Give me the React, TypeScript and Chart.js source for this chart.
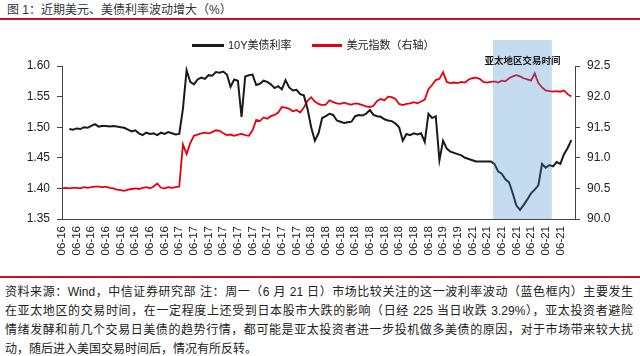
import React, { useEffect, useRef } from "react";
import { Chart, registerables } from "chart.js";

Chart.register(...registerables);

// ---- data ----
const dateLabels = [
  "06-16", "06-16", "06-16", "06-16", "06-16", "06-16", "06-16", "06-16",
  "06-17", "06-17", "06-17", "06-17", "06-17", "06-17", "06-17", "06-17", "06-17",
  "06-18", "06-18", "06-18", "06-18", "06-18", "06-18", "06-18", "06-18", "06-18",
  "06-19", "06-19",
  "06-21", "06-21", "06-21", "06-21", "06-21", "06-21", "06-21",
];

// samples per date label: 4 (one every 0.25 label step)
const SAMPLE_STEP = 0.25;

const yield10Y: (number | null)[] = [
  null, null, 1.497, 1.496, 1.498, 1.497, 1.500, 1.499, 1.502, 1.505,
  1.501, 1.502, 1.502, 1.501, 1.502, 1.501, 1.500, 1.499, 1.496, 1.493,
  1.495, 1.490, 1.487, 1.491, 1.489, 1.490, 1.487, 1.491, 1.489, 1.492,
  1.490, 1.488, 1.489, 1.530, 1.593, 1.574, 1.570, 1.578, 1.581, 1.579,
  1.585, 1.584, 1.590, 1.589, 1.591, 1.586, 1.566, 1.578, 1.576, 1.517,
  1.583, 1.585, 1.586, 1.569, 1.571, 1.576, 1.574, 1.570, 1.564, 1.567,
  1.562, 1.577, 1.565, 1.560, 1.561, 1.554, 1.552, 1.530, 1.500, 1.478,
  1.490, 1.515, 1.518, 1.522, 1.520, 1.511, 1.509, 1.507, 1.508, 1.509,
  1.518, 1.520, 1.519, 1.522, 1.528, 1.520, 1.518, 1.517, 1.513, 1.511,
  1.510, 1.506, 1.500, 1.478, 1.489, 1.487, 1.490, 1.488, 1.490, 1.476,
  1.522, 1.515, 1.518, 1.446, 1.478, 1.465, 1.460, 1.458, 1.456, 1.454,
  1.450, 1.448, 1.446, 1.444, 1.444, 1.444, 1.444, 1.444, 1.440, 1.428,
  1.424, 1.415, 1.410, 1.392, 1.372, 1.365, 1.373, 1.382, 1.392, 1.398,
  1.405, 1.440, 1.434, 1.438, 1.436, 1.443, 1.440, 1.456, 1.466, 1.479,
];

const dollarIndex: (number | null)[] = [
  90.50, 90.51, 90.50, 90.51, 90.51, 90.50, 90.52, 90.51, 90.52, 90.53,
  90.53, 90.52, 90.53, 90.51, 90.50, 90.48, 90.47, 90.46, 90.48, 90.49,
  90.50, 90.49, 90.51, 90.52, 90.50, 90.53, 90.58, 90.51, 90.50, 90.52,
  90.51, 90.52, 90.53, 91.22, 91.06, 91.24, 91.36, 91.38, 91.40, 91.41,
  91.40, 91.42, 91.45, 91.44, 91.40, 91.37, 91.38, 91.36, 91.38, 91.39,
  91.37, 91.36, 91.45, 91.62, 91.60, 91.66, 91.64, 91.68, 91.70, 91.74,
  91.83, 91.82, 91.80, 91.76, 91.78, 91.74, 91.82, 91.93, 91.99, 91.92,
  91.88, 91.86, 91.87, 91.94, 91.91, 91.89, 91.88, 91.90, 91.88, 91.87,
  91.89, 91.88, 91.86, 91.84, 91.83, 91.85, 91.93, 91.96, 91.94, 92.00,
  91.99, 91.96, 91.88, 91.86, 91.88, 91.89, 91.91, 91.89, 91.92, 91.95,
  92.12, 92.19, 92.27, 92.29, 92.40, 92.24, 92.22, 92.23, 92.22, 92.24,
  92.23, 92.28, 92.30, 92.31, 92.29, 92.24, 92.23, 92.24, 92.25, 92.23,
  92.26, 92.25, 92.30, 92.33, 92.35, 92.33, 92.30, 92.28, 92.26, 92.38,
  92.22, 92.15, 92.10, 92.09, 92.08, 92.09, 92.08, 92.10, 92.04, 92.00,
];

// highlighted Asia-Pacific session (in date-label units)
const highlightRange = [29.4, 33.42];
const highlightText = "亚太地区交易时间";

const seriesNames = ["10Y美债利率", "美元指数（右轴）"];
const leftTicks = [1.35, 1.6, 0.05];
const rightTicks = [90, 92.5, 0.5];

const FONT = "'Liberation Sans', 'Noto Sans CJK SC', Arial, sans-serif";
const CJK_FONT = "'Liberation Sans', 'Noto Sans CJK SC', sans-serif";

const highlightPlugin = {
  id: "highlightBox",
  afterDatasetsDraw(chart: any) {
    const { ctx, chartArea, scales } = chart;
    const x0 = scales.x.getPixelForValue(highlightRange[0]);
    const x1 = scales.x.getPixelForValue(highlightRange[1]);
    const top = chartArea.top - 26;
    ctx.save();
    ctx.fillStyle = "rgba(62,138,205,0.3)";
    ctx.fillRect(x0, top, x1 - x0, chartArea.bottom - top);
    ctx.fillStyle = "#1a1a1a";
    ctx.font = `bold 9.5px ${CJK_FONT}`;
    ctx.textAlign = "center";
    ctx.textBaseline = "middle";
    ctx.fillText(highlightText, (x0 + x1) / 2, chartArea.top - 5);
    ctx.restore();
  },
};

export default function App() {
  const canvasRef = useRef<HTMLCanvasElement | null>(null);

  useEffect(() => {
    if (!canvasRef.current) return;
    const chart = new Chart(canvasRef.current, {
      type: "line",
      data: {
        datasets: [
          {
            label: seriesNames[0],
            data: yield10Y.map((v, i) => ({ x: i * SAMPLE_STEP, y: v })) as any,
            borderColor: "#1a1a1a",
            borderWidth: 2,
            pointRadius: 0,
            yAxisID: "y",
            spanGaps: false,
          },
          {
            label: seriesNames[1],
            data: dollarIndex.map((v, i) => ({ x: i * SAMPLE_STEP, y: v })) as any,
            borderColor: "#e8000e",
            borderWidth: 1.8,
            pointRadius: 0,
            yAxisID: "y1",
          },
        ],
      },
      options: {
        responsive: false,
        animation: false,
        events: [],
        layout: { padding: { top: 36, bottom: 17, left: 0, right: 0 } },
        plugins: { legend: { display: false }, tooltip: { enabled: false } },
        scales: {
          x: {
            type: "linear",
            min: 0,
            max: 35,
            afterBuildTicks: (axis: any) => {
              axis.ticks = dateLabels.map((_, i) => ({ value: i }));
            },
            afterFit: (s: any) => {
              s.height = 40;
            },
            ticks: {
              autoSkip: false,
              minRotation: 90,
              maxRotation: 90,
              padding: 7,
              color: "#222",
              font: { family: FONT, size: 11.5 },
              callback: (_v: any, idx: number) => dateLabels[idx] ?? "",
            },
            grid: { display: false, drawTicks: false, tickLength: 0 },
            border: { display: true, color: "#444", width: 1 },
          },
          y: {
            position: "left",
            min: leftTicks[0],
            max: leftTicks[1],
            afterFit: (s: any) => {
              s.width = 62;
            },
            ticks: {
              stepSize: leftTicks[2],
              padding: 7,
              color: "#222",
              font: { family: FONT, size: 12 },
              callback: (v: any) => Number(v).toFixed(2),
            },
            grid: { drawOnChartArea: false, drawTicks: true, tickLength: 5, color: "#444" },
            border: { display: true, color: "#444", width: 1 },
          },
          y1: {
            position: "right",
            min: rightTicks[0],
            max: rightTicks[1],
            afterFit: (s: any) => {
              s.width = 65;
            },
            ticks: {
              stepSize: rightTicks[2],
              padding: 7,
              color: "#222",
              font: { family: FONT, size: 12 },
              callback: (v: any) => Number(v).toFixed(1),
            },
            grid: { drawOnChartArea: false, drawTicks: true, tickLength: 5, color: "#444" },
            border: { display: true, color: "#444", width: 1 },
          },
        },
      } as any,
      plugins: [highlightPlugin],
    });
    return () => chart.destroy();
  }, []);

  const noteLines = [
    "资料来源：Wind，中信证券研究部 注：周一（6 月 21 日）市场比较关注的这一波利率波动（蓝色框内）主要发生",
    "在亚太地区的交易时间，在一定程度上还受到日本股市大跌的影响（日经 225 当日收跌 3.29%），亚太投资者避险",
    "情绪发酵和前几个交易日美债的趋势行情，都可能是亚太投资者进一步投机做多美债的原因，对于市场带来较大扰",
    "动，随后进入美国交易时间后，情况有所反转。",
  ];

  return (
    <div
      style={{
        position: "fixed",
        left: 0,
        top: 0,
        width: 640,
        height: 356,
        background: "#fff",
        fontFamily: CJK_FONT,
        color: "#222",
        overflow: "hidden",
      }}
    >
      <div style={{ position: "absolute", left: 7, top: 2, fontSize: 12, lineHeight: "16px", color: "#333" }}>
        图 1：近期美元、美债利率波动增大（%）
      </div>
      <div style={{ position: "absolute", left: 0, top: 18, width: 640, height: 2, background: "#c8101e" }} />
      <canvas
        ref={canvasRef}
        width={640}
        height={246}
        style={{ position: "absolute", left: 0, top: 30, width: 640, height: 246 }}
      />
      <div style={{ position: "absolute", left: 192, top: 38, display: "flex", alignItems: "center", fontSize: 11, lineHeight: "14px", color: "#222" }}>
        <span style={{ display: "inline-block", width: 32, height: 3, background: "#1a1a1a", marginRight: 4 }} />
        <span>{seriesNames[0]}</span>
        <span style={{ display: "inline-block", width: 30, height: 3, background: "#e8000e", marginLeft: 20, marginRight: 5 }} />
        <span>{seriesNames[1]}</span>
      </div>
      <div style={{ position: "absolute", left: 0, top: 276, width: 640, height: 2, background: "#c8101e" }} />
      <div style={{ position: "absolute", left: 5, top: 283, width: 628, fontSize: 12, lineHeight: "19px" }}>
        {noteLines.map((t, i) => (
          <div
            key={i}
            style={{
              textAlign: "justify",
              textAlignLast: i < noteLines.length - 1 ? "justify" : "left",
              whiteSpace: "nowrap",
            } as any}
          >
            {t}
          </div>
        ))}
      </div>
    </div>
  );
}
